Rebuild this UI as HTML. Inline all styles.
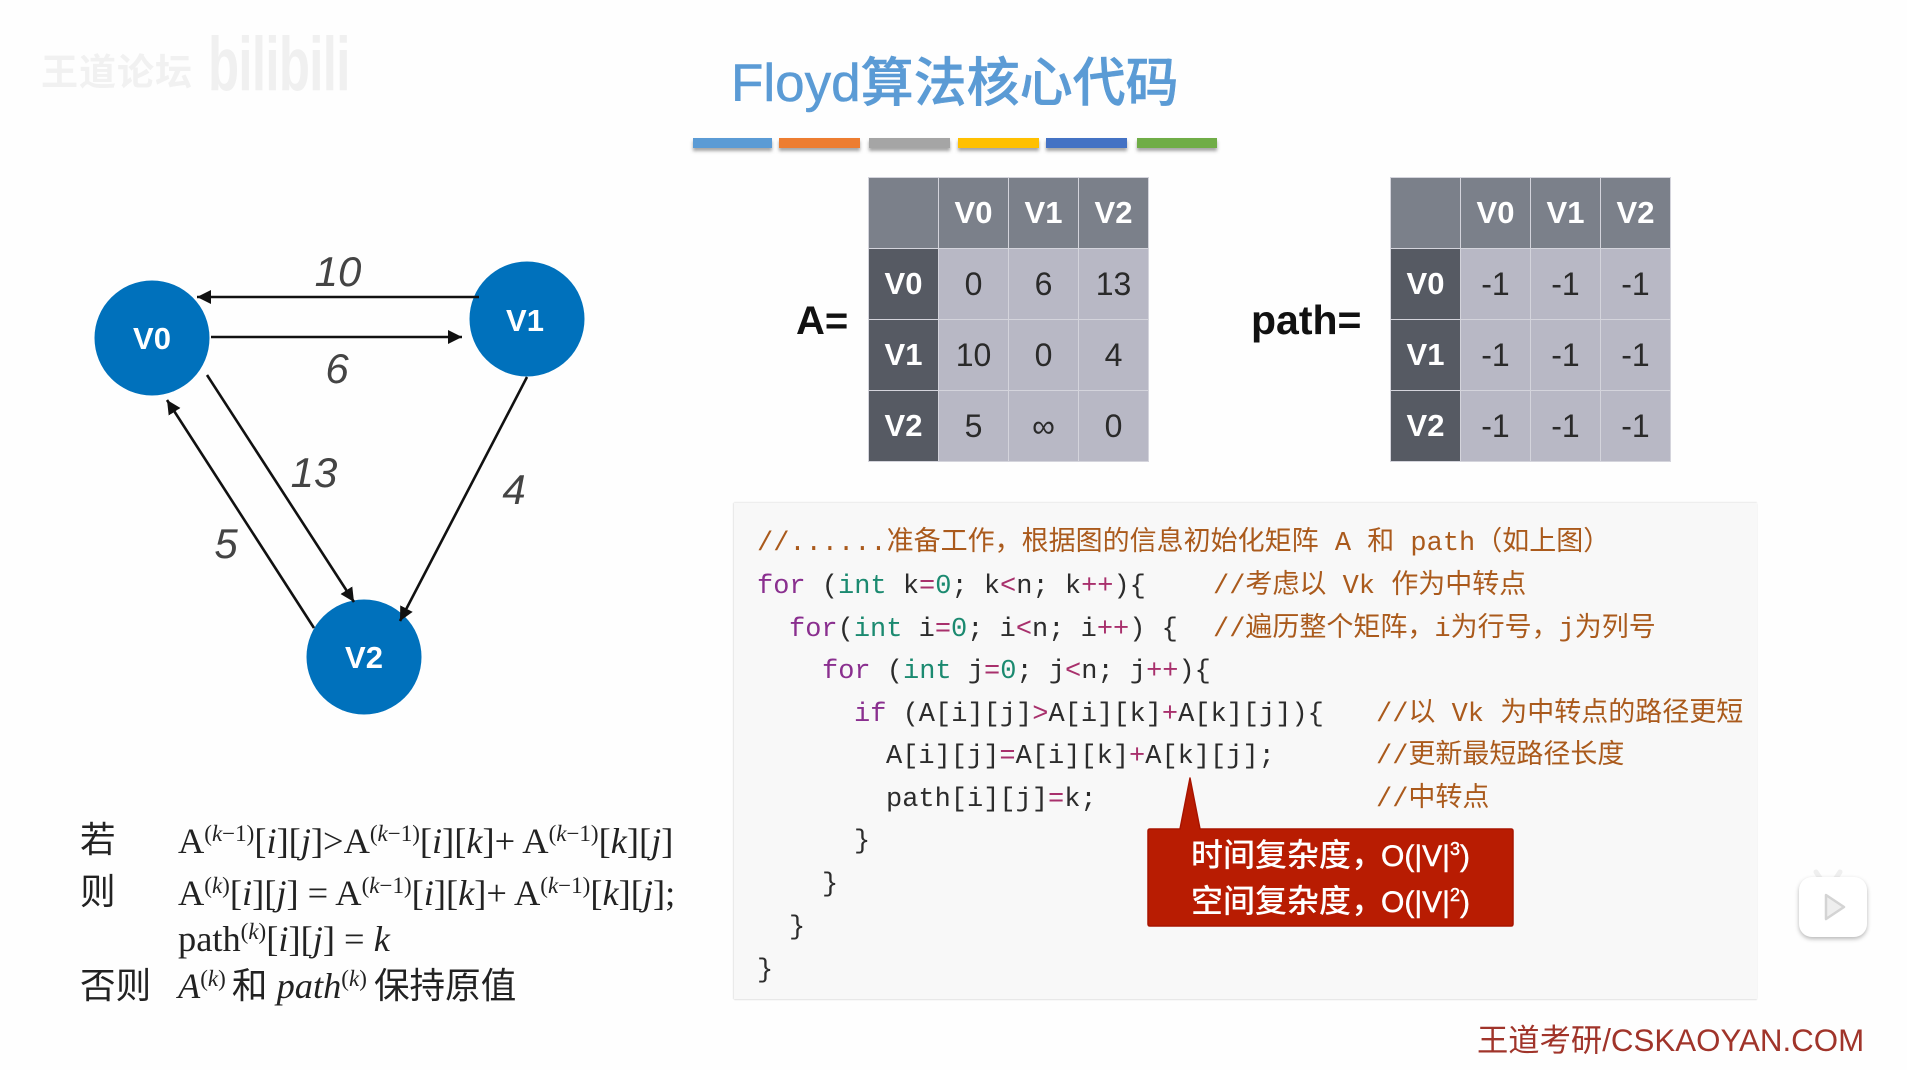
<!DOCTYPE html>
<html lang="zh">
<head>
<meta charset="utf-8">
<title>Floyd算法核心代码</title>
<style>
html,body{margin:0;padding:0;background:#fff;}
#p{position:relative;width:1907px;height:1070px;overflow:hidden;background:#fefefe;font-family:"Liberation Sans","Noto Sans CJK SC",sans-serif;}
.a{position:absolute;white-space:nowrap;}
.bar{position:absolute;top:138px;height:10px;box-shadow:0 3px 3px rgba(90,90,90,.55);}
table{position:absolute;border-collapse:collapse;table-layout:fixed;width:281px;height:284px;top:177px;}
td{height:71px;padding:0;text-align:center;font-size:32px;color:#2a2a2a;background:#b8b8c5;border:1px solid #d4d4dc;box-sizing:border-box;}
td.h{background:#7b808a;color:#fff;font-weight:bold;font-size:31px;}
td.r{background:#565a63;color:#fff;font-weight:bold;font-size:31px;}
#code{position:absolute;left:734px;top:503px;width:1023px;height:496px;background:#f8f8f8;box-shadow:-1px 0 1px #e6e6e6,0 1px 1px #e4e4e4,0 -1px 1px #ececec;}
.c{position:absolute;white-space:pre;font-family:"Liberation Mono","Noto Sans CJK SC",monospace;font-size:27px;line-height:32px;color:#2c2c2c;}
.m{color:#aa5a1c;}.k{color:#8a2f8f;}.t{color:#1b8a70;}.o{color:#a8306c;}
.f{position:absolute;white-space:nowrap;font-family:"Liberation Serif","Noto Sans CJK SC",serif;font-size:36.4px;line-height:40px;color:#222;}
.f sup{font-size:23px;line-height:0;vertical-align:baseline;position:relative;top:-12px;}
.z{font-family:"Noto Sans CJK SC",sans-serif;font-size:35.6px;}
.cb{position:absolute;white-space:nowrap;left:1191px;font-size:32px;line-height:44px;color:#fff;font-weight:500;}
.cb span{font-family:"Liberation Sans",sans-serif;font-size:30px;margin-left:-2px;-webkit-text-stroke:.5px #fff;}
.cb sup{font-size:18px;line-height:0;}
</style>
</head>
<body>
<div id="p">
<div class="a" style="left:41px;top:50px;font-size:37px;line-height:46px;color:#f1f1f1;font-weight:bold;letter-spacing:1px;">王道论坛</div>
<div class="a" style="left:208px;top:20px;font-size:76px;line-height:90px;color:#f0f0f0;font-weight:bold;letter-spacing:-1px;transform:scaleX(.67);transform-origin:0 0;">bilibili</div>

<div class="a" style="left:731px;top:46px;font-size:53px;line-height:76px;color:#5b9bd5;font-weight:500;-webkit-text-stroke:.5px #5b9bd5;">Floyd算法核心代码</div>

<div class="bar" style="left:693px;width:79px;background:#5b9bd5;"></div>
<div class="bar" style="left:779px;width:81px;background:#ed7d31;"></div>
<div class="bar" style="left:869px;width:81px;background:#a5a5a5;"></div>
<div class="bar" style="left:958px;width:81px;background:#ffc000;"></div>
<div class="bar" style="left:1046px;width:81px;background:#4472c4;"></div>
<div class="bar" style="left:1137px;width:80px;background:#70ad47;"></div>

<svg class="a" style="left:-1.5px;top:-2.5px;" width="700" height="760" viewBox="0 0 700 760">
<defs>
<marker id="ah" markerUnits="userSpaceOnUse" markerWidth="16" markerHeight="14" refX="14" refY="7" orient="auto"><path d="M0 0L14 7L0 14Z" fill="#111"/></marker>
</defs>
<circle cx="153" cy="340" r="57.5" fill="#0071bc"/>
<circle cx="528" cy="321" r="57.5" fill="#0071bc"/>
<circle cx="365" cy="659" r="57.5" fill="#0071bc"/>
<g stroke="#111" stroke-width="2.6" fill="none" marker-end="url(#ah)">
<line x1="480" y1="299" x2="198" y2="299"/>
<line x1="212" y1="339" x2="463" y2="339"/>
<line x1="208" y1="377" x2="355" y2="604"/>
<line x1="315" y1="630" x2="168" y2="402"/>
<line x1="528" y1="379" x2="401" y2="623"/>
</g>
<g font-family="Liberation Sans" font-size="31" font-weight="bold" fill="#fff" text-anchor="middle">
<text x="153" y="351">V0</text>
<text x="526" y="333">V1</text>
<text x="365" y="670">V2</text>
</g>
<g font-family="Liberation Sans" font-size="42" font-style="italic" fill="#444" text-anchor="middle">
<text x="339" y="288">10</text>
<text x="338" y="385">6</text>
<text x="315" y="489">13</text>
<text x="515" y="506">4</text>
<text x="227" y="560">5</text>
</g>
</svg>

<div class="a" style="left:796px;top:297px;font-size:40px;line-height:48px;font-weight:bold;color:#111;">A=</div>
<table style="left:868px;">
<tr><td class="h"></td><td class="h">V0</td><td class="h">V1</td><td class="h">V2</td></tr>
<tr><td class="r">V0</td><td>0</td><td>6</td><td>13</td></tr>
<tr><td class="r">V1</td><td>10</td><td>0</td><td>4</td></tr>
<tr><td class="r">V2</td><td>5</td><td>∞</td><td>0</td></tr>
</table>

<div class="a" style="left:1251px;top:296px;font-size:41px;line-height:48px;font-weight:bold;color:#111;">path=</div>
<table style="left:1390px;">
<tr><td class="h"></td><td class="h">V0</td><td class="h">V1</td><td class="h">V2</td></tr>
<tr><td class="r">V0</td><td>-1</td><td>-1</td><td>-1</td></tr>
<tr><td class="r">V1</td><td>-1</td><td>-1</td><td>-1</td></tr>
<tr><td class="r">V2</td><td>-1</td><td>-1</td><td>-1</td></tr>
</table>

<div id="code"></div>
<div class="c m" style="left:757px;top:528px;">//......准备工作，根据图的信息初始化矩阵 A 和 path（如上图）</div>
<div class="c" style="left:757px;top:571px;"><span class="k">for</span> (<span class="t">int</span> k<span class="o">=</span><span class="t">0</span>; k<span class="o">&lt;</span>n; k<span class="o">++</span>){</div>
<div class="c m" style="left:1213px;top:571px;">//考虑以 Vk 作为中转点</div>
<div class="c" style="left:789px;top:614px;"><span class="k">for</span>(<span class="t">int</span> i<span class="o">=</span><span class="t">0</span>; i<span class="o">&lt;</span>n; i<span class="o">++</span>) {</div>
<div class="c m" style="left:1213px;top:614px;">//遍历整个矩阵，i为行号，j为列号</div>
<div class="c" style="left:822px;top:656px;"><span class="k">for</span> (<span class="t">int</span> j<span class="o">=</span><span class="t">0</span>; j<span class="o">&lt;</span>n; j<span class="o">++</span>){</div>
<div class="c" style="left:854px;top:699px;"><span class="k">if</span> (A[i][j]<span class="o">&gt;</span>A[i][k]<span class="o">+</span>A[k][j]){</div>
<div class="c m" style="left:1376px;top:699px;">//以 Vk 为中转点的路径更短</div>
<div class="c" style="left:886px;top:741px;">A[i][j]<span class="o">=</span>A[i][k]<span class="o">+</span>A[k][j];</div>
<div class="c m" style="left:1376px;top:741px;">//更新最短路径长度</div>
<div class="c" style="left:886px;top:784px;">path[i][j]<span class="o">=</span>k;</div>
<div class="c m" style="left:1376px;top:784px;">//中转点</div>
<div class="c" style="left:854px;top:826px;">}</div>
<div class="c" style="left:822px;top:869px;">}</div>
<div class="c" style="left:789px;top:912px;">}</div>
<div class="c" style="left:757px;top:955px;">}</div>

<svg class="a" style="left:1140px;top:770px;" width="400" height="170" viewBox="0 0 400 170">
<path d="M50 8L60 59L371 59Q373 59 373 61L373 154Q373 156 371 156L10 156Q8 156 8 154L8 61Q8 59 10 59L40 59Z" fill="#b81c02" stroke="#a81400" stroke-width="1.5" stroke-linejoin="round"/>
</svg>
<div class="cb" style="top:833px;">时间复杂度，<span>O(|V|<sup>3</sup>)</span></div>
<div class="cb" style="top:879px;">空间复杂度，<span>O(|V|<sup>2</sup>)</span></div>

<div class="f z" style="left:80px;top:818px;">若</div>
<div class="f" style="left:178px;top:821px;">A<sup>(<i>k</i>−1)</sup>[<i>i</i>][<i>j</i>]&gt;A<sup>(<i>k</i>−1)</sup>[<i>i</i>][<i>k</i>]+ A<sup>(<i>k</i>−1)</sup>[<i>k</i>][<i>j</i>]</div>
<div class="f z" style="left:80px;top:870px;">则</div>
<div class="f" style="left:178px;top:873px;">A<sup>(<i>k</i>)</sup>[<i>i</i>][<i>j</i>] = A<sup>(<i>k</i>−1)</sup>[<i>i</i>][<i>k</i>]+ A<sup>(<i>k</i>−1)</sup>[<i>k</i>][<i>j</i>];</div>
<div class="f" style="left:178px;top:919px;">path<sup>(<i>k</i>)</sup>[<i>i</i>][<i>j</i>] = <i>k</i></div>
<div class="f z" style="left:80px;top:964px;">否则</div>
<div class="f" style="left:178px;top:964px;"><i>A</i><sup style="margin-right:-3px;">(<i>k</i>)</sup> <span class="z">和</span> <i>path</i><sup style="margin-right:-2px;">(<i>k</i>)</sup> <span class="z">保持原值</span></div>

<div class="a" style="left:1477px;top:1020px;font-size:31.3px;line-height:42px;color:#a0342a;">王道考研/CSKAOYAN.COM</div>

<svg class="a" style="left:1790px;top:857px;" width="100" height="100" viewBox="0 0 100 100">
<path d="M26 15L32 24M50 15L44 24" stroke="#efefef" stroke-width="5" stroke-linecap="round"/>
<rect x="9" y="20" width="68" height="60" rx="13" fill="#fff" style="filter:drop-shadow(0 2px 2px rgba(0,0,0,.28));"/>
<path d="M36 38L54 50L36 62Z" fill="#eeeeee" stroke="#d4d4d4" stroke-width="2.5" stroke-linejoin="round"/>
</svg>
</div>
</body>
</html>
